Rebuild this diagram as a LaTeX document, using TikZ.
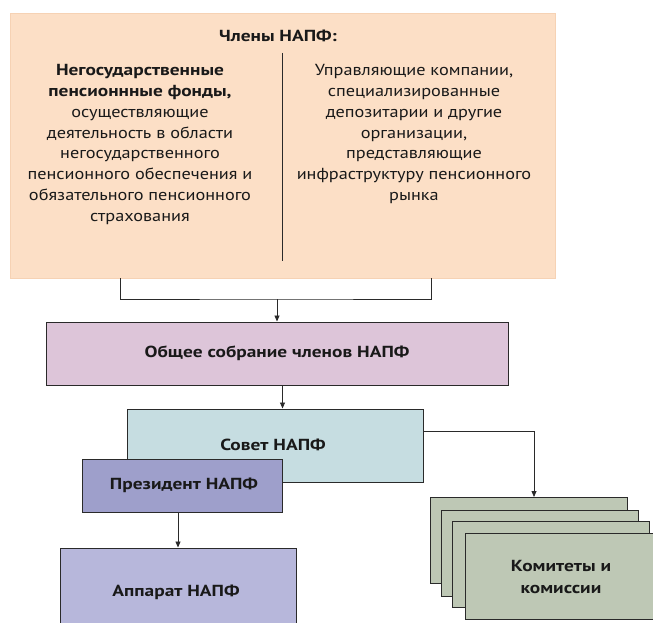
\documentclass[tikz,border=0pt]{standalone}
\usepackage{fontspec}
\setmainfont{PT Sans}[FakeStretch=1.14, BoldFeatures={FakeStretch=1.21}]
\usetikzlibrary{arrows.meta}
\definecolor{cTop}{HTML}{FCDFC6}
\definecolor{cTopEdge}{HTML}{F6D2B4}
\definecolor{cGen}{HTML}{DDC5D9}
\definecolor{cSov}{HTML}{C6DDE1}
\definecolor{cPres}{HTML}{9E9FCB}
\definecolor{cApp}{HTML}{B7B7DB}
\definecolor{cCom}{HTML}{BEC8B5}
\definecolor{cLine}{HTML}{2A2A2A}
\begin{document}
\begin{tikzpicture}[x=1pt,y=-1pt,
  box/.style={draw=cLine, line width=1pt, rectangle, inner sep=0pt, anchor=center},
  arr/.style={-{Triangle[length=6pt,width=5pt]}, line width=0.8pt, draw=cLine},
  conn/.style={line width=0.8pt, draw=cLine},
  lbl/.style={font=\fontsize{16}{20.8}\selectfont\bfseries, align=center, text=black!90, inner sep=0pt},
  body/.style={font=\fontsize{16}{20.8}\selectfont, align=center, text=black!90, inner sep=0pt}]
\path[use as bounding box, clip] (0,0) rectangle (653,623);
\fill[white] (0,0) rectangle (653,623);

% top box
\node[box, draw=cTopEdge, fill=cTop, minimum width=545pt, minimum height=264pt] (top) at (282.5,146) {};
\node[lbl] (title) at (278,36) {Члены НАПФ:};
\coordinate (d1) at (282.5,53);
\coordinate (d2) at (282.5,261);
\draw[conn] (d1) -- (d2);
\node[body] (left) at (140,144.5) {\textbf{Негосударственные}\\\textbf{пенсионнные фонды,}\\осуществляющие\\деятельность в области\\негосударственного\\пенсионного обеспечения и\\обязательного пенсионного\\страхования};
\node[body] (right) at (414,134) {Управляющие компании,\\специализированные\\депозитарии и другие\\организации,\\представляющие\\инфраструктуру пенсионного\\рынка};

% general meeting
\node[box, fill=cGen, minimum width=462pt, minimum height=63pt] (gen) at (277,353.5) {};
\node[lbl] (genT) at (gen.center) {Общее собрание членов НАПФ};

% bracket
\coordinate (bl) at (120,278);
\coordinate (br) at (431,278);
\coordinate (j) at (277,299);
\draw[conn] (bl) |- (j) -| (br);
\draw[arr] (j) -- (gen.north);

% council
\node[box, fill=cSov, minimum width=296pt, minimum height=73pt] (sov) at (275,445.5) {};
\node[lbl] (sovT) at (273,445) {Совет НАПФ};
\draw[arr] ([xshift=5.5pt]gen.south) -- ([xshift=7.5pt]sov.north);

% president
\node[box, fill=cPres, minimum width=200pt, minimum height=53pt] (pres) at (182,485.5) {};
\node[lbl] (presT) at (184,485) {Президент НАПФ};

% apparatus
\node[box, fill=cApp, minimum width=236pt, minimum height=88pt] (app) at (178,592) {};
\node[lbl] (appT) at (176,592) {Аппарат НАПФ};
\draw[arr] ([xshift=-4pt]pres.south) -- (app.north);

% committees
\node[box, fill=cCom, minimum width=197pt, minimum height=86pt] (k1) at (528.5,540.5) {};
\node[box, fill=cCom, minimum width=197pt, minimum height=86pt] (k2) at (539.5,553) {};
\node[box, fill=cCom, minimum width=197pt, minimum height=86pt] (k3) at (550.5,564) {};
\node[box, fill=cCom, minimum width=197pt, minimum height=86pt] (k4) at (563.5,576) {};
\node[lbl, font=\fontsize{16}{22}\selectfont\bfseries] (kT) at (561,577) {Комитеты и\\комиссии};
\draw[arr] ([yshift=14.5pt]sov.east) -| ([xshift=5.5pt]k1.north);
\end{tikzpicture}
\end{document}
